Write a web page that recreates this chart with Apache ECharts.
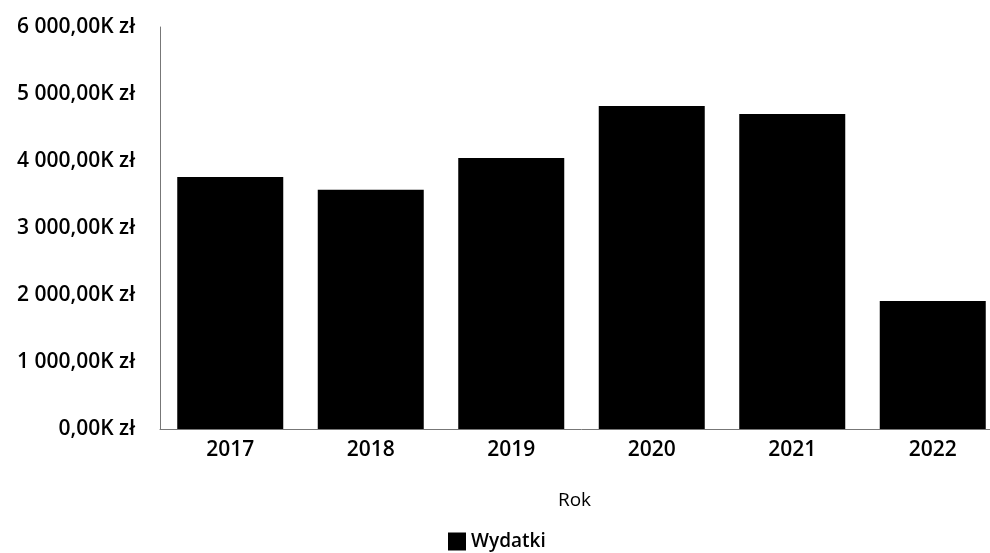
<!DOCTYPE html>
<html>
<head>
<meta charset="utf-8">
<script src="https://cdn.jsdelivr.net/npm/echarts@6/dist/echarts.min.js"></script>
<style>
  html,body{margin:0;padding:0;background:#fff;overflow:hidden;}
  #wrap{width:990px;height:553px;overflow:hidden;}
  #main{width:1010px;height:553px;}
</style>
</head>
<body>
<div id="wrap"><div id="main"></div></div>
<script>
// lata i wydatki (K zł)
var years=["2017","2018","2019","2020","2021","2022"];
var wydatki=[3760,3570,4045,4820,4700,1910];
var yTicks=[0,1000,2000,3000,4000,5000,6000];

// formatowanie etykiet osi Y: "6 000,00K zł"
var fmtZl=function(v){
  var s=String(Math.round(v));
  s=s.replace(/\B(?=(\d{3})+(?!\d))/g," ");
  return s+",00K zł";
}

var chart=echarts.init(document.getElementById("main"));
chart.setOption({
  animation:false,
  textStyle:{fontFamily:"Open Sans"},
  grid:{
    left:160,
    right:7,
    top:27,
    bottom:124
  },
  legend:{
    data:["Wydatki"],
    top:530,
    left:446,
    icon:"rect",
    itemWidth:18,
    itemHeight:18,
    itemGap:5,
    padding:[2,2,2,2],
    textStyle:{fontSize:19,fontWeight:600,color:"#000",fontFamily:"Open Sans"}
  },
  xAxis:{
    type:"category",
    data:years,
    name:"Rok",
    nameLocation:"middle",
    nameGap:62,
    nameTextStyle:{fontSize:19,color:"#000",fontFamily:"Open Sans",padding:[0,14,0,0]},
    axisLine:{lineStyle:{color:"#777",width:1}},
    axisTick:{show:false},
    axisLabel:{fontSize:21,fontWeight:600,color:"#000",margin:11}
  },
  yAxis:{
    type:"value",
    min:yTicks[0],
    max:yTicks[yTicks.length-1],
    interval:1000,
    axisLine:{show:true,lineStyle:{color:"#777",width:1}},
    axisTick:{show:false},
    splitLine:{show:false},
    axisLabel:{
      fontSize:21,
      fontWeight:600,
      color:"#000",
      margin:25,
      formatter:fmtZl
    }
  },
  series:[
    {
      name:"Wydatki",
      type:"bar",
      data:wydatki,
      barWidth:106,
      itemStyle:{color:"#000"}
    }
  ]
});
</script>
</body>
</html>
